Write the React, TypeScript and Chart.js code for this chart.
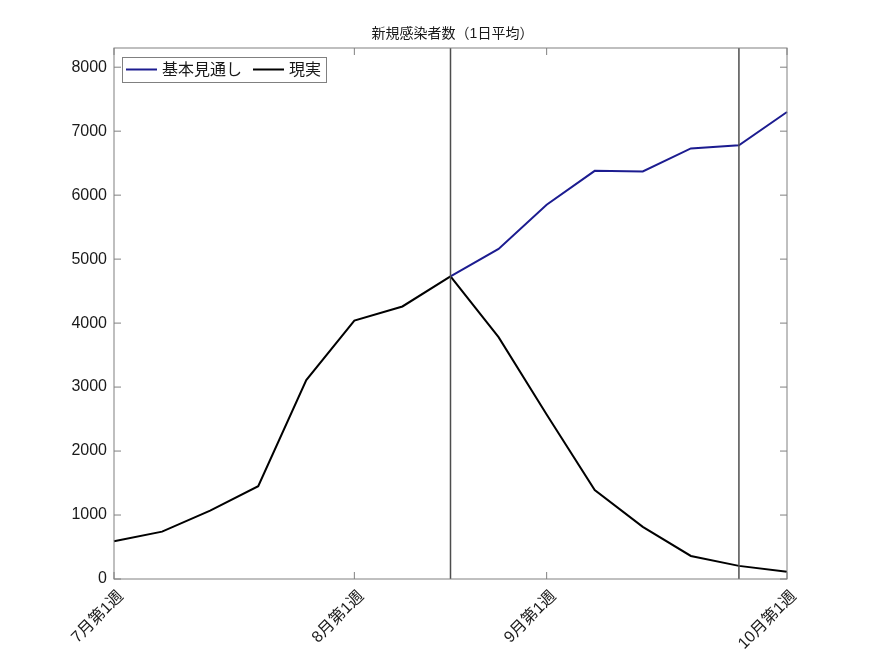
import { Chart, registerables } from 'chart.js';
import { useEffect, useRef } from 'react';

Chart.register(...registerables);

// 週ラベル（表示するのは月初の週だけ）
const weekLabels = [
    '7月第1週', '', '', '', '', '8月第1週', '', '', '', '9月第1週', '', '', '', '', '10月第1週',
];
const actualCases = [590, 740, 1070, 1450, 3110, 4040, 4260, 4730, 3780, 2570, 1390, 815, 360, 205, 115];
const baselineForecast = [null, null, null, null, null, null, null, 4730, 5160, 5850, 6380, 6370, 6730, 6780, 7300];
const markerWeeks = [7, 13];
const yTicks = [0, 1000, 2000, 3000, 4000, 5000, 6000, 7000, 8000];
const yMax = 8300;
const chartTitle = '新規感染者数（1日平均）';

const FONT = "'Liberation Sans', 'Noto Sans CJK JP', sans-serif";
const FRAME = '#808080';

const framePlugin = {
    id: 'matlabFrame',
    afterDatasetsDraw(chart: Chart) {
        const { ctx, chartArea: a, scales } = chart;
        const x = scales.x;
        const y = scales.y;
        ctx.save();

        // 縦線（基準週）
        ctx.strokeStyle = '#4d4d4d';
        ctx.lineWidth = 1.5;
        markerWeeks.forEach((w) => {
            const px = x.getPixelForValue(w);
            ctx.beginPath();
            ctx.moveTo(px, a.bottom);
            ctx.lineTo(px, a.top);
            ctx.stroke();
        });

        // 枠と内向きの目盛り
        ctx.strokeStyle = FRAME;
        ctx.lineWidth = 1;
        ctx.strokeRect(a.left, a.top, a.right - a.left, a.bottom - a.top);
        ctx.beginPath();
        yTicks.forEach((v) => {
            const py = y.getPixelForValue(v);
            ctx.moveTo(a.left, py);
            ctx.lineTo(a.left + 7, py);
            ctx.moveTo(a.right, py);
            ctx.lineTo(a.right - 7, py);
        });
        weekLabels.forEach((l, i) => {
            if (!l) return;
            const px = x.getPixelForValue(i);
            ctx.moveTo(px, a.bottom);
            ctx.lineTo(px, a.bottom - 7);
            ctx.moveTo(px, a.top);
            ctx.lineTo(px, a.top + 7);
        });
        ctx.stroke();

        // 凡例
        const lx = a.left + 8;
        const ly = a.top + 9;
        ctx.font = `16px ${FONT}`;
        ctx.textBaseline = 'middle';
        const items = chart.data.datasets.map((d) => ({
            label: d.label as string,
            color: d.borderColor as string,
            w: ctx.measureText(d.label as string).width,
        }));
        let width = 4;
        items.forEach((it) => (width += 31 + 5 + it.w + 11));
        width -= 6;
        ctx.fillStyle = '#ffffff';
        ctx.fillRect(lx, ly, width, 25);
        ctx.strokeStyle = FRAME;
        ctx.strokeRect(lx + 0.5, ly + 0.5, width, 25);
        let cx = lx + 4;
        const cy = ly + 12.5;
        items.forEach((it) => {
            ctx.strokeStyle = it.color;
            ctx.lineWidth = 2;
            ctx.beginPath();
            ctx.moveTo(cx, cy);
            ctx.lineTo(cx + 31, cy);
            ctx.stroke();
            ctx.fillStyle = '#1a1a1a';
            ctx.textAlign = 'left';
            ctx.fillText(it.label, cx + 36, cy + 1);
            cx += 31 + 5 + it.w + 11;
        });

        // タイトル
        ctx.font = `14px ${FONT}`;
        ctx.textAlign = 'center';
        ctx.fillStyle = '#1a1a1a';
        ctx.fillText(chartTitle, (a.left + a.right) / 2 + 2, a.top - 14);
        ctx.restore();
    },
};

const App: React.FC = () => {
    const chartRef = useRef<HTMLCanvasElement | null>(null);
    const chartInstance = useRef<Chart | null>(null);

    useEffect(() => {
        if (!chartRef.current) {
            return;
        }
        const context = chartRef.current.getContext('2d');
        if (!context) {
            return;
        }
        if (chartInstance.current) {
            chartInstance.current.destroy();
        }

        chartInstance.current = new Chart(context, {
            type: 'line',
            data: {
                labels: weekLabels,
                datasets: [
                    {
                        label: '基本見通し',
                        data: baselineForecast,
                        borderColor: '#1c1c90',
                        borderWidth: 2,
                        pointRadius: 0,
                        tension: 0,
                        spanGaps: false,
                    },
                    {
                        label: '現実',
                        data: actualCases,
                        borderColor: '#000000',
                        borderWidth: 2,
                        pointRadius: 0,
                        tension: 0,
                    },
                ],
            },
            options: {
                animation: false,
                responsive: true,
                maintainAspectRatio: false,
                layout: {
                    padding: { top: 48, right: 83, left: 0, bottom: 0 },
                },
                scales: {
                    x: {
                        type: 'category',
                        offset: false,
                        grid: { display: false, drawTicks: false },
                        border: { display: false },
                        afterFit: (s: any) => {
                            s.height = 73;
                        },
                        ticks: {
                            autoSkip: false,
                            maxRotation: 45,
                            minRotation: 45,
                            padding: 8,
                            labelOffset: 7,
                            color: '#1a1a1a',
                            font: { family: FONT, size: 16 },
                        },
                    },
                    y: {
                        min: 0,
                        max: yMax,
                        grid: { display: false, drawTicks: false },
                        border: { display: false },
                        afterFit: (s: any) => {
                            s.width = 114;
                        },
                        afterBuildTicks: (s: any) => {
                            s.ticks = yTicks.map((v) => ({ value: v }));
                        },
                        ticks: {
                            padding: 7,
                            color: '#1a1a1a',
                            font: { family: FONT, size: 16 },
                            callback: (v: any) => String(v),
                        },
                    },
                },
                plugins: {
                    legend: { display: false },
                    title: { display: false },
                    tooltip: { enabled: false },
                },
            },
            plugins: [framePlugin],
        });

        return () => {
            if (chartInstance.current) {
                chartInstance.current.destroy();
                chartInstance.current = null;
            }
        };
    }, []);

    return (
        <div style={{ position: 'fixed', left: 0, top: 0, width: 870, height: 652, background: '#ffffff' }}>
            <canvas ref={chartRef} />
        </div>
    );
};

export default App;
